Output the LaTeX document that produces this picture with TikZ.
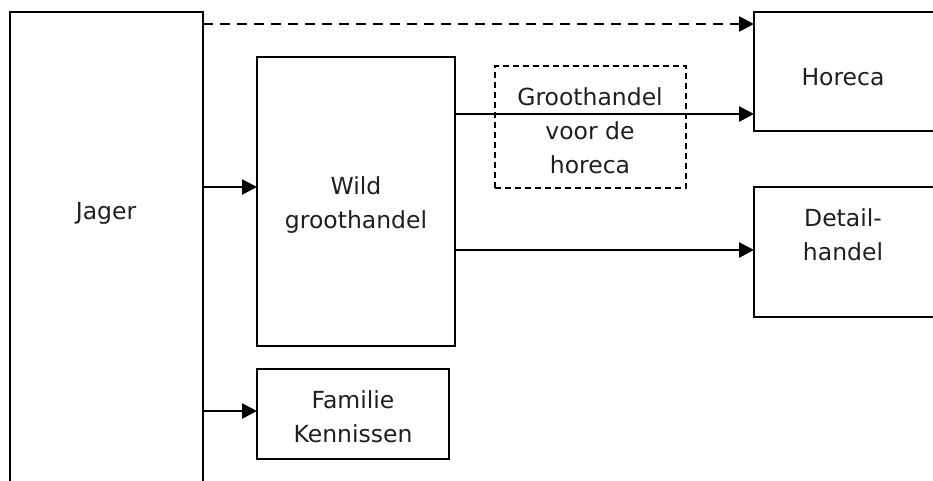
\documentclass[tikz,border=0pt]{standalone}
\usepackage{fontspec}
\setmainfont{DejaVu Sans}
\usetikzlibrary{arrows.meta}
\begin{document}
\begin{tikzpicture}[x=1pt,y=-1pt,
  box/.style={draw,line width=2pt,inner sep=0pt,outer sep=0pt},
  dbox/.style={draw,line width=1.6pt,dash pattern=on 6pt off 4pt,inner sep=0pt,outer sep=0pt},
  txt/.style={font=\fontsize{23.5}{34}\selectfont,align=center,inner sep=0pt,text=black!88},
  conn/.style={line width=2.6pt,-{Triangle[length=15pt,width=15pt]}},
  dconn/.style={conn,dash pattern=on 10pt off 7pt}]
\useasboundingbox (0,0) rectangle (933,480);
\begin{scope}
\clip (0,0) rectangle (933,480);
\node[box,minimum width=193pt,minimum height=478pt] (jager) at (106.5,251) {};
\node[box,minimum width=186pt,minimum height=119pt] (horeca) at (847,71.5) {};
\node[box,minimum width=198pt,minimum height=289pt] (wild) at (356,201.5) {};
\node[dbox,minimum width=191pt,minimum height=122pt] (ghh) at (590.5,127) {};
\node[box,minimum width=186pt,minimum height=130pt] (detail) at (847,252) {};
\node[box,minimum width=192pt,minimum height=90pt] (fam) at (353,414) {};
\end{scope}
\node[txt] (tjager) at (106,213) {Jager};
\node[txt] (thoreca) at (843,77) {Horeca};
\node[txt] (twild) at (356,205) {Wild\\groothandel};
\node[txt] (tghh) at (590,131) {Groothandel\\voor de\\horeca};
\node[txt] (tdetail) at (843,235) {Detail-\\handel};
\node[txt] (tfam) at (353,417) {Familie\\Kennissen};
\coordinate (y1) at (0,24);
\coordinate (y2) at (0,114);
\coordinate (y3) at (0,187);
\coordinate (y4) at (0,250);
\coordinate (y5) at (0,411);
\draw[dconn] (jager.east |- y1) -- (horeca.west |- y1);
\draw[conn] (wild.east |- y2) -- (horeca.west |- y2);
\draw[conn] (wild.east |- y4) -- (detail.west |- y4);
\draw[conn] (jager.east |- y3) -- (wild.west |- y3);
\draw[conn] (jager.east |- y5) -- (fam.west |- y5);
\end{tikzpicture}
\end{document}
